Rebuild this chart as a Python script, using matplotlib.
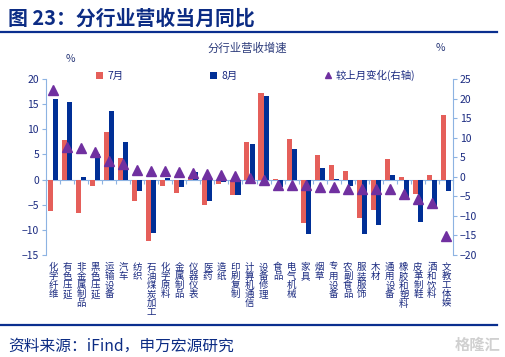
import numpy as np
import matplotlib
matplotlib.use("Agg")
import matplotlib.pyplot as plt
import matplotlib.transforms as mtransforms

plt.rcParams['font.family'] = ['Noto Sans CJK SC', 'DejaVu Sans']

# data
industries = ['化学纤维', '有色压延', '非金属制品', '黑色压延', '运输设备', '汽车', '纺织',
              '石油煤炭加工', '化学原料', '金属制品', '仪器仪表', '医药', '造纸', '印刷复制',
              '计算机通信', '设备修理', '食品', '电气机械', '家具', '烟草', '专用设备',
              '农副食品', '服装服饰', '木材', '通用设备', '橡胶和塑料', '皮革制鞋',
              '酒和饮料', '文教工体娱']
jul = [-6.3, 7.8, -6.7, -1.3, 9.5, 4.2, -4.2, -12.2, -1.3, -2.7, 0.5, -5.0, -0.9, -3.1,
       7.4, 17.3, 0.2, 8.1, -8.7, 4.8, 2.8, 1.8, -7.7, -6.0, 4.1, 0.6, -2.9, 1.0, 12.8]
aug = [16.0, 15.5, 0.6, 5.1, 13.7, 7.4, -2.3, -10.7, 0.3, -1.4, 1.6, -4.3, -0.5, -3.1,
       7.0, 16.6, -1.5, 6.1, -10.9, 2.3, 0.2, -1.3, -10.9, -9.1, 1.0, -3.7, -8.5, -5.5, -2.2]
chg = [22.1, 7.6, 7.3, 6.3, 4.0, 3.2, 1.8, 1.4, 1.4, 1.2, 1.0, 0.6, 0.4, 0.2,
       -0.4, -0.8, -2.0, -2.1, -2.2, -2.6, -2.6, -3.2, -3.2, -3.2, -3.2, -4.4, -5.7, -6.7, -15.1]

navy = '#0c2c84'
axis_col = '#8db3e2'
tick_col = '#1a2a80'
red = '#e55f5a'
blue = '#002f96'
purple = '#7030a0'

fig = plt.figure(figsize=(5.06, 3.57), dpi=100)
ax = fig.add_axes([46 / 506, 1 - 255 / 357, 407 / 506, 176 / 357])
ax2 = ax.twinx()

x = np.arange(len(industries))
w = 0.36
b1 = ax.bar(x - w / 2, jul, w, color=red, label='7月', zorder=2)
b2 = ax.bar(x + w / 2, aug, w, color=blue, label='8月', zorder=2)
l3, = ax2.plot(x, chg, ls='none', marker='^', ms=7.5, color=purple,
               label='较上月变化(右轴)', zorder=3)

ax.set_xlim(-0.5, len(industries) - 0.5)
ax.set_ylim(-15, 20)
ax.set_yticks(np.arange(-15, 21, 5))
ax2.set_ylim(-20, 25)
ax2.set_yticks(np.arange(-20, 26, 5))

for a in (ax, ax2):
    for s in a.spines.values():
        s.set_visible(False)
ax.spines['left'].set_visible(True)
ax.spines['left'].set_color(axis_col)
ax2.spines['right'].set_visible(True)
ax2.spines['right'].set_color(axis_col)
ax.spines['bottom'].set_visible(True)
ax.spines['bottom'].set_position(('data', 0))
ax.spines['bottom'].set_color(axis_col)
ax.spines['bottom'].set_zorder(1)

ax.set_xticks(np.arange(-0.5, len(industries), 1.0))
ax.tick_params(axis='x', length=3, color=axis_col, labelbottom=False)
ax.tick_params(axis='y', length=3, color=axis_col, labelcolor=tick_col, labelsize=7.5, pad=2)
ax2.tick_params(axis='y', length=3, color=axis_col, labelcolor=tick_col, labelsize=7.5, pad=2)

trans = mtransforms.blended_transform_factory(ax.transData, ax.transAxes)
for i, name in enumerate(industries):
    ax.text(i, -0.045, '\n'.join(name), transform=trans, ha='center', va='top',
            fontsize=6.8, linespacing=1.0, color=tick_col)

ax.legend([b1, b2, l3], ['7月', '8月', '较上月变化(右轴)'], ncol=3, frameon=False,
          loc='center left', bbox_to_anchor=(50 / 407, 1.02), fontsize=7.5,
          handlelength=0.7, handleheight=0.7, handletextpad=0.4, columnspacing=8.3,
          labelcolor=tick_col, borderaxespad=0, borderpad=0, markerscale=0.6)

fig.text(247 / 506, 1 - 48 / 357, '分行业营收增速', ha='center', va='center',
         fontsize=8.2, color='#2b3a7a')
fig.text(70 / 506, 1 - 59 / 357, '%', ha='center', va='center', fontsize=7.5, color='#2b3a7a')
fig.text(440 / 506, 1 - 48 / 357, '%', ha='center', va='center', fontsize=7.5, color='#2b3a7a')

fig.text(8 / 506, 1 - 18 / 357, '图 23：分行业营收当月同比', ha='left', va='center',
         fontsize=14.3, fontweight='bold', color=navy)
fig.add_artist(plt.Line2D([0, 497 / 506], [1 - 32 / 357] * 2, color='#0a2f8f', lw=1.6))
fig.add_artist(plt.Line2D([0, 497 / 506], [1 - 325 / 357] * 2, color='#0a2f8f', lw=1.6))
fig.text(8 / 506, 1 - 346 / 357, '资料来源：iFind，申万宏源研究', ha='left', va='center',
         fontsize=11.3, color=navy)
fig.text(500 / 506, 1 - 345 / 357, '格隆汇', ha='right', va='center',
         fontsize=11, color='#d0d0d0', fontweight='bold')

fig.savefig('out.png', dpi=100)
